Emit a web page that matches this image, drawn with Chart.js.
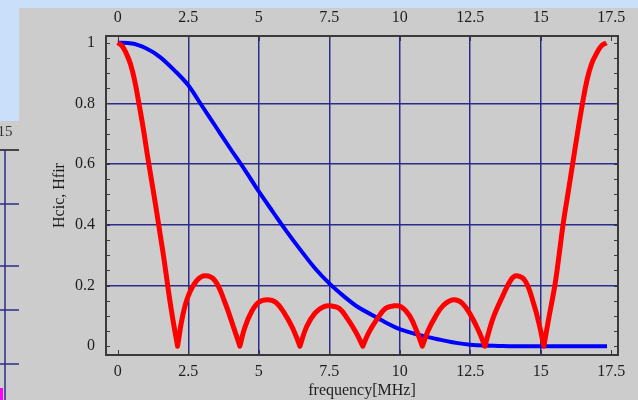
<!DOCTYPE html>
<html><head><meta charset="utf-8">
<script src="https://cdn.jsdelivr.net/npm/chart.js@4.4.0/dist/chart.umd.min.js"></script>
<style>html,body{margin:0;padding:0;background:#cccccc;overflow:hidden}canvas{display:block}</style>
</head><body>
<canvas id="c" width="638" height="400"></canvas>
<script>
// ---- data ----
const xTicks = [0, 2.5, 5, 7.5, 10, 12.5, 15, 17.5];
const xTickLabels = ['0', '2.5', '5', '7.5', '10', '12.5', '15', '17.5'];
const yTicks = [0, 0.2, 0.4, 0.6, 0.8, 1];
const yTickLabels = ['0', '0.2', '0.4', '0.6', '0.8', '1'];

// Hcic (blue)
const cicFreq = [0,0.5,1,1.5,2,2.5,3,3.5,4,4.5,5,5.5,6,6.5,7,7.5,8,8.5,9,9.5,10,10.5,11,11.5,12,12.5,13,13.5,14,15,16,17,17.35];
const cicVal  = [1,0.998,0.982,0.953,0.91,0.86,0.79,0.72,0.65,0.582,0.51,0.443,0.377,0.315,0.256,0.207,0.166,0.13,0.104,0.078,0.056,0.042,0.03,0.02,0.011,0.005,0.002,0.001,0,0,0,0,0];

// Hfir (red)
const firFreq = [0,0.15,0.3,0.45,0.6,0.75,0.9,1.05,1.2,1.35,1.5,1.65,1.8,1.95,2.12,
  2.3,2.5,2.8,3.1,3.45,3.8,4.09,4.33,
  4.5,4.75,5.0,5.3,5.6,5.9,6.2,6.46,
  6.7,7.0,7.3,7.55,7.85,8.15,8.45,8.69,
  8.9,9.2,9.5,9.8,10.05,10.35,10.6,10.8,
  11.0,11.25,11.55,11.9,12.2,12.5,12.8,13.02,
  13.3,13.65,13.95,14.15,14.45,14.75,14.95,15.11,
  15.3,15.5,15.65,15.79,15.96,16.13,16.3,16.48,16.64,16.8,16.98,17.15,17.33];
const firVal = [1,0.99,0.965,0.93,0.875,0.8,0.72,0.63,0.545,0.46,0.37,0.28,0.18,0.09,0,
  0.1,0.166,0.216,0.232,0.216,0.144,0.067,0,
  0.06,0.115,0.145,0.153,0.145,0.11,0.06,0,
  0.065,0.11,0.13,0.133,0.125,0.09,0.045,0,
  0.045,0.09,0.125,0.133,0.13,0.1,0.05,0,
  0.05,0.095,0.135,0.153,0.143,0.105,0.05,0,
  0.09,0.165,0.22,0.232,0.215,0.14,0.07,0,
  0.1,0.2,0.3,0.4,0.5,0.6,0.7,0.8,0.877,0.93,0.965,0.99,1.0];

// ---- styling ----
const GRID = '#2b2b8e';
const FRAME = '#3a3a3a';
const TXT = '#1e1e1e';
const SERIF = '"Liberation Serif", "Times New Roman", serif';

const toPts = (xs, ys) => xs.map((x, i) => ({x: x, y: ys[i]}));
// zeros of |H| are cusps: repeat the zero point so the spline breaks its tangent there
const toCuspPts = (xs, ys) => {
  const pts = [];
  xs.forEach((x, i) => {
    pts.push({x: x, y: ys[i]});
    if (ys[i] === 0 && i > 0 && i < xs.length - 1) pts.push({x: x, y: ys[i]});
  });
  return pts;
};

const bgPlugin = {
  id: 'bg',
  beforeDraw(chart) {
    const ctx = chart.ctx;
    ctx.save();
    ctx.fillStyle = '#cccccc'; ctx.fillRect(0, 0, 638, 400);
    ctx.fillStyle = '#cadff9'; ctx.fillRect(0, 0, 638, 8); ctx.fillRect(0, 0, 19, 121);
    // fragment of another window at the left edge
    ctx.fillStyle = '#333'; ctx.font = '15px ' + SERIF; ctx.textAlign = 'right'; ctx.textBaseline = 'alphabetic';
    ctx.fillText('15', 12.5, 136);
    ctx.strokeStyle = '#444'; ctx.lineWidth = 2;
    ctx.beginPath(); ctx.moveTo(0, 150); ctx.lineTo(19, 150); ctx.stroke();
    ctx.strokeStyle = GRID; ctx.lineWidth = 1.5;
    ctx.beginPath(); ctx.moveTo(5, 150); ctx.lineTo(5, 400);
    [204, 266, 310, 364].forEach(y => { ctx.moveTo(0, y); ctx.lineTo(19, y); });
    ctx.stroke();
    ctx.fillStyle = '#ff00ff'; ctx.fillRect(0, 388, 3, 12);
    ctx.restore();
  }
};

const framePlugin = {
  id: 'frame',
  afterDraw(chart) {
    const ctx = chart.ctx;
    const {left, right, top, bottom} = chart.chartArea;
    ctx.save();
    ctx.strokeStyle = FRAME; ctx.lineWidth = 1;
    ctx.beginPath();
    const ys = chart.scales.y;
    for (let i = 0; i <= 20; i++) {
      const py = Math.round(ys.getPixelForValue(i * 0.05)) + 0.5;
      ctx.moveTo(left, py); ctx.lineTo(left + 4, py);
      ctx.moveTo(right, py); ctx.lineTo(right - 4, py);
    }
    const xs = chart.scales.x;
    xTicks.forEach(v => {
      const px = Math.round(xs.getPixelForValue(v)) + 0.5;
      ctx.moveTo(px, bottom); ctx.lineTo(px, bottom - 5);
      ctx.moveTo(px, top); ctx.lineTo(px, top + 5);
    });
    ctx.stroke();
    ctx.lineWidth = 2;
    ctx.strokeRect(left, top, right - left, bottom - top);
    ctx.restore();
  }
};

const XMIN = -0.418, XMAX = 17.74, YMIN = -0.029, YMAX = 1.0224;

const gridX = c => (c.tick && c.tick.value > 0.01 && c.tick.value < 17.4) ? GRID : 'rgba(0,0,0,0)';
const gridY = c => (c.tick && c.tick.value > 0.01 && c.tick.value < 0.99) ? GRID : 'rgba(0,0,0,0)';

new Chart(document.getElementById('c'), {
  type: 'line',
  data: {
    datasets: [
      { label: 'Hfir', data: toCuspPts(firFreq, firVal), borderColor: '#ff0000', borderWidth: 5,
        pointRadius: 0, fill: false, tension: 0.4, borderJoinStyle: 'round' },
      { label: 'Hcic', data: toPts(cicFreq, cicVal), borderColor: '#0000ff', borderWidth: 4,
        pointRadius: 0, fill: false, cubicInterpolationMode: 'monotone' }
    ]
  },
  options: {
    responsive: false,
    devicePixelRatio: 1,
    animation: false,
    layout: { padding: 0 },
    plugins: { legend: { display: false }, tooltip: { enabled: false } },
    scales: {
      x: {
        type: 'linear', position: 'bottom', min: XMIN, max: XMAX,
        afterBuildTicks: s => { s.ticks = xTicks.map(v => ({value: v})); },
        afterFit: s => { s.height = 45; },
        border: { display: false },
        grid: { drawTicks: false, color: gridX, lineWidth: 1.5 },
        ticks: { autoSkip: false, maxRotation: 0, padding: 7, color: TXT,
          font: { family: SERIF, size: 16 }, callback: (v, i) => xTickLabels[i] },
        title: { display: true, text: 'frequency[MHz]', color: TXT,
          font: { family: SERIF, size: 16 }, padding: { top: 0, bottom: 0 } }
      },
      x2: {
        type: 'linear', position: 'top', min: XMIN, max: XMAX,
        afterBuildTicks: s => { s.ticks = xTicks.map(v => ({value: v})); },
        afterFit: s => { s.height = 36; },
        border: { display: false },
        grid: { display: false, drawTicks: false },
        ticks: { autoSkip: false, maxRotation: 0, padding: 9, color: TXT,
          font: { family: SERIF, size: 16 }, callback: (v, i) => xTickLabels[i] }
      },
      y: {
        type: 'linear', position: 'left', min: YMIN, max: YMAX,
        afterBuildTicks: s => { s.ticks = yTicks.map(v => ({value: v})); },
        afterFit: s => { s.width = 106; },
        border: { display: false },
        grid: { drawTicks: false, color: gridY, lineWidth: 1.5 },
        ticks: { autoSkip: false, padding: 11, color: TXT,
          font: { family: SERIF, size: 16 }, callback: (v, i) => yTickLabels[i] },
        title: { display: true, text: 'Hcic, Hfir', color: TXT,
          font: { family: SERIF, size: 16 }, padding: { top: 50, bottom: 0 } }
      },
      y2: {
        type: 'linear', position: 'right', min: YMIN, max: YMAX,
        afterFit: s => { s.width = 20; },
        border: { display: false },
        grid: { display: false, drawTicks: false },
        ticks: { display: false }
      }
    }
  },
  plugins: [bgPlugin, framePlugin]
});
</script>
</body></html>
